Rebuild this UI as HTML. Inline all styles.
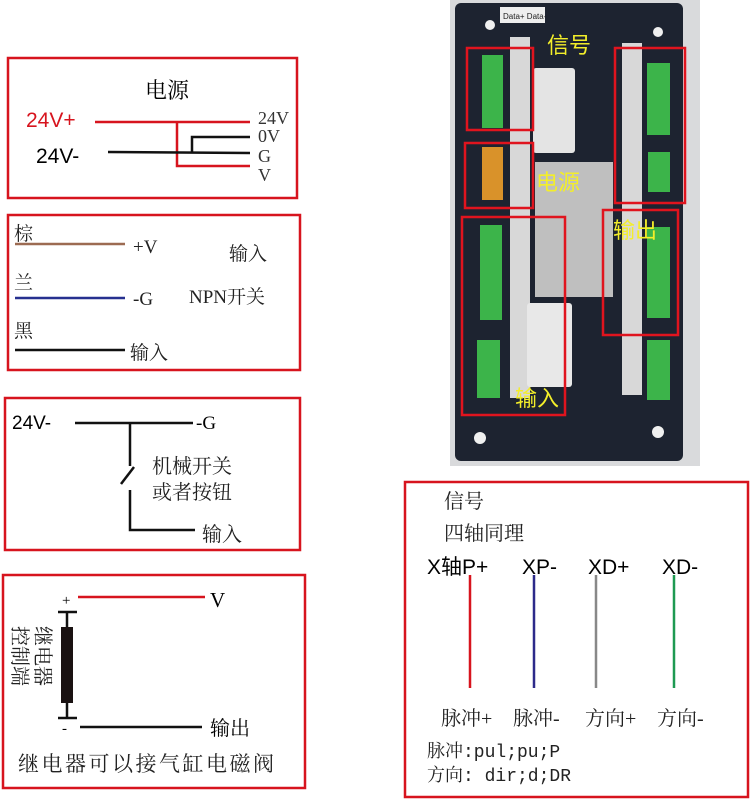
<!DOCTYPE html>
<html><head><meta charset="utf-8"><style>
html,body{margin:0;padding:0;background:#fff;width:750px;height:800px;overflow:hidden}
svg text{font-family:"Liberation Serif","Noto Serif CJK SC",serif}
svg .s, svg .s text{font-family:"Liberation Sans","Noto Sans CJK SC",sans-serif}
svg .m, svg .m text{font-family:"Liberation Mono","Noto Serif CJK SC",monospace}
</style></head><body>
<svg width="750" height="800" viewBox="0 0 750 800" xmlns="http://www.w3.org/2000/svg">
<!-- photo -->
<rect x="450" y="0" width="250" height="466" fill="#d9dadc"/>
<rect x="455" y="3" width="228" height="458" rx="6" fill="#1d2330"/>
<rect x="500" y="7" width="45" height="16" fill="#eee"/>
<text x="503" y="19" font-size="8" class="s" fill="#222">Data+ Data-</text>
<rect x="510" y="37" width="20" height="361" fill="#d8d8d8"/>
<rect x="622" y="43" width="20" height="352" fill="#d8d8d8"/>
<rect x="533" y="68" width="42" height="85" rx="3" fill="#e4e4e4"/>
<rect x="535" y="162" width="78" height="135" fill="#bfbfbf"/>
<rect x="527" y="303" width="45" height="84" rx="3" fill="#e8e8e8"/>
<g fill="#3cb44a">
<rect x="482" y="55" width="21" height="73"/>
<rect x="480" y="225" width="22" height="95"/>
<rect x="477" y="340" width="23" height="58"/>
<rect x="647" y="63" width="23" height="72"/>
<rect x="648" y="152" width="22" height="40"/>
<rect x="647" y="227" width="23" height="91"/>
<rect x="647" y="340" width="23" height="60"/>
</g>
<rect x="482" y="147" width="21" height="53" fill="#d9922a"/>
<g fill="#f0f0f0"><circle cx="490" cy="25" r="5"/><circle cx="658" cy="32" r="5"/><circle cx="480" cy="438" r="6"/><circle cx="658" cy="432" r="6"/></g>
<g fill="none" stroke="#e0141e" stroke-width="2.5">
<rect x="467" y="48" width="66" height="82"/>
<rect x="465" y="143" width="68" height="65"/>
<rect x="462" y="217" width="103" height="198"/>
<rect x="615" y="48" width="70" height="155"/>
<rect x="603" y="210" width="75" height="125"/>
</g>
<g fill="#f3ee2a" font-size="22" class="s">
<text x="547" y="53">信号</text>
<text x="536" y="190">电源</text>
<text x="613" y="238">输出</text>
<text x="515" y="406">输入</text>
</g>
<!-- boxes -->
<g fill="none" stroke="#d7141e" stroke-width="2.5">
<rect x="8" y="58" width="289" height="140"/>
<rect x="8" y="215" width="292" height="155"/>
<rect x="5" y="398" width="295" height="152"/>
<rect x="3" y="575" width="302" height="213"/>
<rect x="405" y="482" width="343" height="315"/>
</g>
<text x="145" y="98" font-size="22">电源</text>
<text x="26" y="127" font-size="21" class="s" fill="#d7141e">24V+</text>
<text x="36" y="163" font-size="21" class="s">24V-</text>
<g font-size="18" fill="#333"><text x="258" y="124">24V</text><text x="258" y="142">0V</text><text x="258" y="162">G</text><text x="258" y="181">V</text></g>
<polyline points="95,122 250,122" stroke="#d7141e" stroke-width="2.5" fill="none"/>
<polyline points="177,122 177,166 250,166" stroke="#d7141e" stroke-width="2.5" fill="none"/>
<polyline points="108,152 250,153" stroke="#111" stroke-width="2.5" fill="none"/>
<polyline points="192,152 192,137 250,137" stroke="#111" stroke-width="2.5" fill="none"/>
<!-- box2 -->
<g font-size="19" fill="#222">
<text x="14" y="240">棕</text><text x="133" y="253">+V</text><text x="229" y="260">输入</text>
<text x="14" y="289">兰</text><text x="133" y="305">-G</text><text x="189" y="303">NPN开关</text>
<text x="14" y="337">黑</text><text x="130" y="359">输入</text>
</g>
<line x1="15" y1="244" x2="125" y2="244" stroke="#9c6b52" stroke-width="2.5"/>
<line x1="15" y1="298" x2="125" y2="298" stroke="#26308f" stroke-width="2.5"/>
<line x1="15" y1="350" x2="125" y2="350" stroke="#111" stroke-width="2.5"/>
<!-- box3 -->
<text x="12" y="429" font-size="19" class="s">24V-</text>
<text x="196" y="429" font-size="19">-G</text>
<g stroke="#111" stroke-width="2.5" fill="none">
<line x1="75" y1="423" x2="193" y2="423"/>
<line x1="130" y1="423" x2="130" y2="466"/>
<line x1="121" y1="484" x2="134" y2="467"/>
<polyline points="130,490 130,530 195,530"/>
</g>
<g font-size="20" fill="#222"><text x="152" y="473">机械开关</text><text x="152" y="499">或者按钮</text><text x="202" y="541">输入</text></g>
<!-- box4 -->
<text x="62" y="605" font-size="15">+</text>
<line x1="78" y1="597" x2="205" y2="597" stroke="#d7141e" stroke-width="2.5"/>
<text x="210" y="607" font-size="21">V</text>
<g stroke="#111" stroke-width="2.5"><line x1="58" y1="612" x2="77" y2="612"/><line x1="58" y1="718" x2="77" y2="718"/><line x1="67" y1="612" x2="67" y2="718"/></g>
<rect x="61" y="627" width="12" height="76" fill="#1a1212"/>
<text x="62" y="733" font-size="15">-</text>
<line x1="80" y1="727" x2="202" y2="727" stroke="#111" stroke-width="2.5"/>
<text x="210" y="735" font-size="20">输出</text>
<g font-size="20" fill="#222">
<text transform="translate(36,626) rotate(90)">继电器</text>
<text transform="translate(13,626) rotate(90)">控制端</text>
</g>
<text x="18" y="771" font-size="21" letter-spacing="2.5" fill="#222">继电器可以接气缸电磁阀</text>
<!-- box5 -->
<g font-size="20" fill="#222"><text x="444" y="508">信号</text><text x="444" y="540">四轴同理</text></g>
<g font-size="21" class="s"><text x="427" y="574">X轴P+</text><text x="522" y="574">XP-</text><text x="588" y="574">XD+</text><text x="662" y="574">XD-</text></g>
<line x1="470" y1="575" x2="470" y2="688" stroke="#d7141e" stroke-width="2.5"/>
<line x1="534" y1="575" x2="534" y2="688" stroke="#2d2a8a" stroke-width="2.5"/>
<line x1="596" y1="575" x2="596" y2="688" stroke="#888" stroke-width="2.5"/>
<line x1="674" y1="575" x2="674" y2="688" stroke="#1e9a52" stroke-width="2.5"/>
<g font-size="20" fill="#222"><text x="441" y="725">脉冲+</text><text x="513" y="725">脉冲-</text><text x="585" y="725">方向+</text><text x="657" y="725">方向-</text></g>
<g font-size="18" fill="#222" class="m"><text x="427" y="757">脉冲:pul;pu;P</text><text x="427" y="781">方向: dir;d;DR</text></g>
</svg>
</body></html>
